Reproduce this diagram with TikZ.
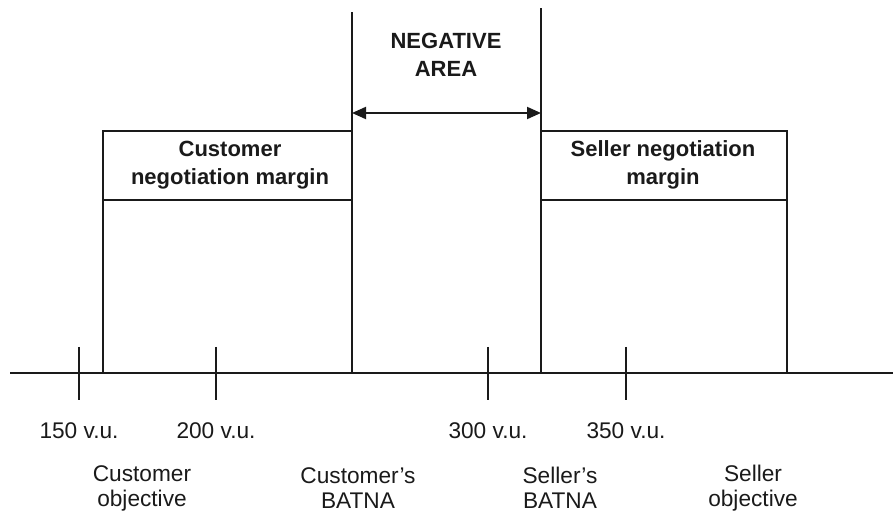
\documentclass[tikz,border=0pt]{standalone}
\usepackage{fontspec}
\setmainfont{Liberation Sans}
\usetikzlibrary{positioning,arrows.meta}
\definecolor{ink}{HTML}{1A1A1A}
\tikzset{
  rule/.style={ink, line width=1.5pt},
  lbl/.style={font=\fontsize{17}{18.75}\selectfont, align=center, text=ink},
  head/.style={font=\fontsize{16.5}{21}\selectfont\bfseries, align=center, text=ink},
}

\begin{document}
\begin{tikzpicture}[x=0.75pt,y=-0.75pt]
  \useasboundingbox (0,0) rectangle (893,513);
  % Axis
  \coordinate (axisL) at (10,373);
  \coordinate (axisR) at (893,373);
  \draw[rule] (axisL) -- (axisR);
  % Ticks with values
  \foreach \x/\v in {79/150,216/200,488/300,626/350}{
    \draw[rule] (\x,347) -- (\x,400);
    \node[lbl, anchor=base] (v\v) at (\x,438) {\v\ v.u.};
  }
  % Points on the axis
  \coordinate (cObj) at (103,373);
  \coordinate (cBat) at (352,373);
  \coordinate (sBat) at (541,373);
  \coordinate (sObj) at (787,373);
  \coordinate (cTop) at (352,12);
  \coordinate (sTop) at (541,8);
  % Customer margin
  \draw[rule] (cObj) |- (cBat |- 0,131);
  \draw[rule] (cObj |- 0,200) -- (cBat |- 0,200);
  \draw[rule] (cBat) -- (cTop);
  \node[head] (cMargin) at (230,165) {Customer\\negotiation margin};
  % Seller margin
  \draw[rule] (sObj) |- (sBat |- 0,131);
  \draw[rule] (sBat |- 0,200) -- (sObj |- 0,200);
  \draw[rule] (sBat) -- (sTop);
  \node[head] (sMargin) at (663,165) {Seller negotiation\\margin};
  % Negative area
  \draw[rule, {Triangle[length=10.5pt,width=9pt]}-{Triangle[length=10.5pt,width=9pt]}]
    (cTop |- 0,113) -- (sTop |- 0,113);
  \node[head] (neg) at (446,55) {NEGATIVE\\AREA};
  % Labels below
  \node[lbl] (cObjL) at (142,488) {Customer\\objective};
  \node[lbl] (cBatL) at (358,488) {Customer's\\BATNA};
  \node[lbl] (sBatL) at (560,488) {Seller's\\BATNA};
  \node[lbl] (sObjL) at (753,488) {Seller\\objective};
\end{tikzpicture}
\end{document}
